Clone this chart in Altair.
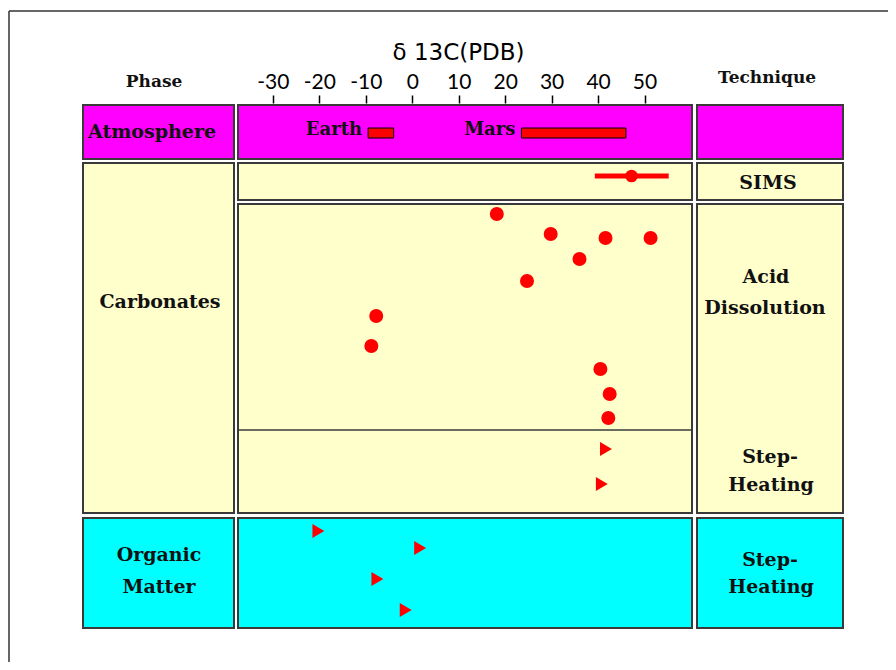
import altair as alt
import pandas as pd

# ---------------- data ----------------
tick_values = [-30, -20, -10, 0, 10, 20, 30, 40, 50]

atm_names = ["Earth", "Mars"]
atm_lo = [-9.5, 23.5]
atm_hi = [-4.0, 46.0]
atm_rows = [125, 125]

sims_value = [47.2]
sims_lo = [39.3]
sims_hi = [55.2]
sims_rows = [168]

acid_values = [18.2, 29.8, 41.6, 51.3, 36.0, 24.7, -7.75, -8.8, 40.5, 42.5, 42.2]
acid_rows = [206, 226, 230, 230, 251, 273, 308, 338, 361, 386, 410]

carb_step_values = [41.7, 40.8]
carb_step_rows = [441, 476]

org_step_values = [-20.2, 1.7, -7.5, -1.4]
org_step_rows = [523, 540, 571, 602]

phase_names = ["Atmosphere", "Carbonates", "Organic Matter"]
technique_names = ["SIMS", "Acid Dissolution", "Step-Heating", "Step-Heating"]

# ---------------- layout ----------------
W, H = 880, 654
MAGENTA, CREAM, CYAN, RED = "#FF00FF", "#FFFFCC", "#00FFFF", "#FF0000"
EDGE = "#3a3a3a"

yscale = alt.Scale(domain=[0, H], range=[0, H], nice=False, zero=False, padding=0)
xscale = alt.Scale(domain=[-37.5, 60], range=[230, 683], nice=False, zero=False, padding=0)

xaxis = alt.Axis(
    orient="top", offset=-95, values=tick_values, domain=False, grid=False,
    tickSize=8, tickWidth=1.5, tickColor="black",
    labelFont="Lato", labelFontSize=21, labelColor="black", labelPadding=3,
    labelExpr="toString(datum.value)", labelFlush=False, labelOverlap=False,
    title="δ 13C(PDB)", titleFont="DejaVu Sans", titleFontSize=23,
    titleFontWeight="normal", titleColor="black",
    titleX=450, titleY=-51, titleBaseline="middle", titleAlign="center",
)

boxes = pd.DataFrame([
    # left column (phase)
    dict(x0=75, x1=226, y0=97, y1=151, fill=MAGENTA),
    dict(x0=75, x1=226, y0=155, y1=505, fill=CREAM),
    dict(x0=75, x1=226, y0=510, y1=620, fill=CYAN),
    # middle column (plot panels)
    dict(x0=230, x1=684, y0=97, y1=151, fill=MAGENTA),
    dict(x0=230, x1=684, y0=155, y1=192, fill=CREAM),
    dict(x0=230, x1=684, y0=196, y1=505, fill=CREAM),
    dict(x0=230, x1=684, y0=510, y1=620, fill=CYAN),
    # right column (technique)
    dict(x0=689, x1=835, y0=97, y1=151, fill=MAGENTA),
    dict(x0=689, x1=835, y0=155, y1=192, fill=CREAM),
    dict(x0=689, x1=835, y0=196, y1=505, fill=CREAM),
    dict(x0=689, x1=835, y0=510, y1=620, fill=CYAN),
])

box_layer = alt.Chart(boxes).mark_rect(stroke=EDGE, strokeWidth=2).encode(
    x=alt.X("x0:Q", scale=None, axis=None),
    x2="x1:Q",
    y=alt.Y("y0:Q", scale=yscale, axis=None),
    y2="y1:Q",
    fill=alt.Fill("fill:N", scale=None, legend=None),
)

divider = alt.Chart(pd.DataFrame({"y": [422]})).mark_rule(
    color=EDGE, strokeWidth=1.5
).encode(
    x=alt.value(230), x2=alt.value(684),
    y=alt.Y("y:Q", scale=yscale, axis=None),
)

frame = pd.DataFrame({"a": [0]})
frame_top = alt.Chart(frame).mark_rule(color="#333", strokeWidth=1.5).encode(
    x=alt.value(1), x2=alt.value(W), y=alt.value(3)
)
frame_left = alt.Chart(frame).mark_rule(color="#333", strokeWidth=1.5).encode(
    x=alt.value(1), y=alt.value(3), y2=alt.value(H)
)

# headings and box labels
headers = pd.DataFrame([
    dict(t="Phase", tx=146, ty=74),
    dict(t="Technique", tx=759, ty=70),
])
labels = pd.DataFrame([
    dict(t=phase_names[0], tx=144, ty=124),
    dict(t=phase_names[1], tx=152, ty=294),
    dict(t="Organic", tx=151, ty=547),
    dict(t="Matter", tx=151, ty=579),
    dict(t=technique_names[0], tx=760, ty=175),
    dict(t="Acid", tx=758, ty=269),
    dict(t="Dissolution", tx=757, ty=300),
    dict(t="Step-", tx=762, ty=449),
    dict(t="Heating", tx=763, ty=477),
    dict(t="Step-", tx=762, ty=552),
    dict(t="Heating", tx=763, ty=579),
])

def text_layer(df, size):
    return alt.Chart(df).mark_text(
        font="DejaVu Serif", fontWeight="bold", fontSize=size,
        color="#111", align="center", baseline="middle",
    ).encode(
        x=alt.X("tx:Q", scale=None, axis=None),
        y=alt.Y("ty:Q", scale=yscale, axis=None),
        text="t:N",
    )

header_layer = text_layer(headers, 17)
label_layer = text_layer(labels, 19)

# ---------------- data marks ----------------
atm_df = pd.DataFrame({"name": atm_names, "lo": atm_lo, "hi": atm_hi, "row": atm_rows})
atm_bars = alt.Chart(atm_df).mark_bar(
    orient="horizontal", size=10, color=RED, stroke="black", strokeWidth=1
).encode(
    x=alt.X("lo:Q", scale=xscale, axis=xaxis),
    x2="hi:Q",
    y=alt.Y("row:Q", scale=yscale, axis=None),
)
atm_text = alt.Chart(atm_df).mark_text(
    font="DejaVu Serif", fontWeight="bold", fontSize=18, color="#111",
    align="right", baseline="middle", dx=-6, dy=-3,
).encode(
    x=alt.X("lo:Q", scale=xscale, axis=xaxis),
    y=alt.Y("row:Q", scale=yscale, axis=None),
    text="name:N",
)

sims_df = pd.DataFrame({"v": sims_value, "lo": sims_lo, "hi": sims_hi, "row": sims_rows})
sims_err = alt.Chart(sims_df).mark_rule(color=RED, strokeWidth=5).encode(
    x=alt.X("lo:Q", scale=xscale, axis=xaxis),
    x2="hi:Q",
    y=alt.Y("row:Q", scale=yscale, axis=None),
)
sims_pt = alt.Chart(sims_df).mark_point(
    shape="circle", filled=True, size=160, color=RED, opacity=1
).encode(
    x=alt.X("v:Q", scale=xscale, axis=xaxis),
    y=alt.Y("row:Q", scale=yscale, axis=None),
)

acid_df = pd.DataFrame({"v": acid_values, "row": acid_rows})
acid_pts = alt.Chart(acid_df).mark_point(
    shape="circle", filled=True, size=196, color=RED, opacity=1
).encode(
    x=alt.X("v:Q", scale=xscale, axis=xaxis),
    y=alt.Y("row:Q", scale=yscale, axis=None),
)

TRI = "M-0.85,-1L0.85,0L-0.85,1Z"
step_df = pd.DataFrame({
    "v": carb_step_values + org_step_values,
    "row": carb_step_rows + org_step_rows,
})
step_pts = alt.Chart(step_df).mark_point(
    shape=TRI, filled=True, size=196, color=RED, opacity=1
).encode(
    x=alt.X("v:Q", scale=xscale, axis=xaxis),
    y=alt.Y("row:Q", scale=yscale, axis=None),
)

chart = alt.layer(
    frame_top, frame_left, box_layer, divider,
    header_layer, label_layer,
    atm_bars, atm_text, sims_err, sims_pt, acid_pts, step_pts,
).properties(
    width=W, height=H,
    autosize=alt.AutoSizeParams(type="none"),
    padding=0,
    background="white",
).configure_view(stroke=None)

chart.save("out.html", embed_options={"renderer": "svg", "actions": False})
